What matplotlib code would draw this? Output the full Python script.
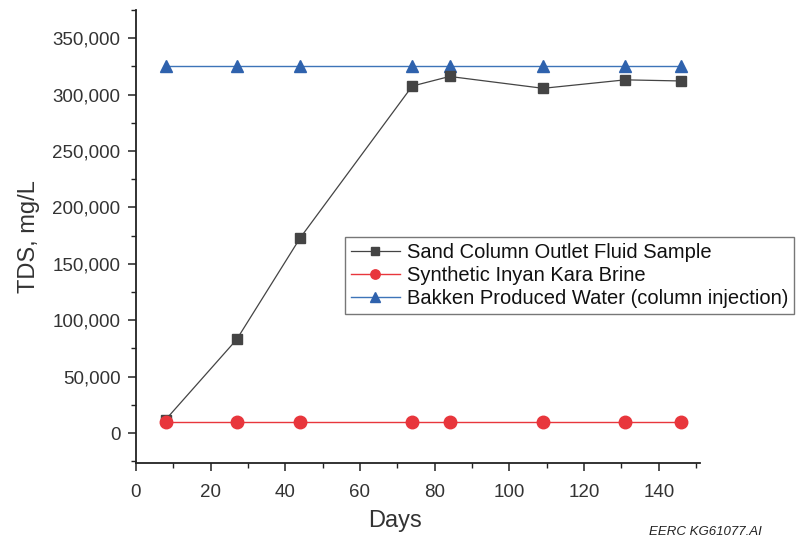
import matplotlib
matplotlib.use("Agg")
import matplotlib.pyplot as plt
from matplotlib.ticker import FuncFormatter, MultipleLocator

plt.rcParams['font.family'] = ['Liberation Sans', 'DejaVu Sans']

# sampling days
days = [8, 27, 44, 74, 84, 109, 131, 146]
# TDS, mg/L
sand_outlet = [12000, 83000, 173000, 307500, 316000, 305500, 313000, 312000]
inyan_kara = [10000, 10000, 10000, 10000, 10000, 10000, 10000, 10000]
bakken = [325000, 325000, 325000, 325000, 325000, 325000, 325000, 325000]

txt = '#333333'

fig = plt.figure(figsize=(7.99, 5.48), dpi=100)
ax = fig.add_axes([0.170, 0.155, 0.706, 0.827])

ax.plot(days, sand_outlet, color='#444444', lw=0.9, marker='s', ms=7.5,
        markerfacecolor='#444444', markeredgecolor='#444444',
        label='Sand Column Outlet Fluid Sample', zorder=3)
ax.plot(days, inyan_kara, color='#e8363c', lw=1.0, marker='o', ms=9,
        markerfacecolor='#e8363c', markeredgecolor='#e8363c',
        label='Synthetic Inyan Kara Brine', zorder=4)
ax.plot(days, bakken, color='#3d74b8', lw=1.0, marker='^', ms=9,
        markerfacecolor='#2f62ad', markeredgecolor='#2f62ad',
        label='Bakken Produced Water (column injection)', zorder=2)

ax.set_xlim(0, 151)
ax.set_ylim(-26500, 375000)
ax.xaxis.set_major_locator(MultipleLocator(20))
ax.xaxis.set_minor_locator(MultipleLocator(10))
ax.yaxis.set_major_locator(MultipleLocator(50000))
ax.yaxis.set_minor_locator(MultipleLocator(25000))
ax.yaxis.set_major_formatter(FuncFormatter(lambda v, p: f'{int(v):,}'))

for s in ['top', 'right']:
    ax.spines[s].set_visible(False)
for s in ['left', 'bottom']:
    ax.spines[s].set_color('#222222')
    ax.spines[s].set_linewidth(1.3)

ax.tick_params(which='major', direction='out', length=6, width=1.1,
               colors='#222222', labelcolor=txt, labelsize=13.5)
ax.tick_params(axis='x', which='major', pad=9)
ax.tick_params(axis='y', which='major', pad=5)
ax.tick_params(which='minor', direction='out', length=3.5, width=1.0,
               colors='#222222')

ax.set_xlabel('Days', fontsize=17, color=txt)
ax.xaxis.set_label_coords(0.459, -0.104)
ax.set_ylabel('TDS, mg/L', fontsize=17, color=txt, labelpad=9)

leg = ax.legend(loc='upper left', bbox_to_anchor=(0.432, 0.5675),
                bbox_transform=fig.transFigure, borderaxespad=0,
                fontsize=14.5, frameon=True, fancybox=False,
                edgecolor='#555555', handlelength=2.4, handletextpad=0.35,
                labelspacing=0.2, borderpad=0.3, markerscale=0.75)
leg.get_frame().set_linewidth(1.0)
for t in leg.get_texts():
    t.set_color('#111111')

fig.text(0.953, 0.018, 'EERC KG61077.AI', fontsize=9.5, style='italic',
         color='#222222', ha='right', va='bottom')

fig.savefig('out.png', dpi=100)
